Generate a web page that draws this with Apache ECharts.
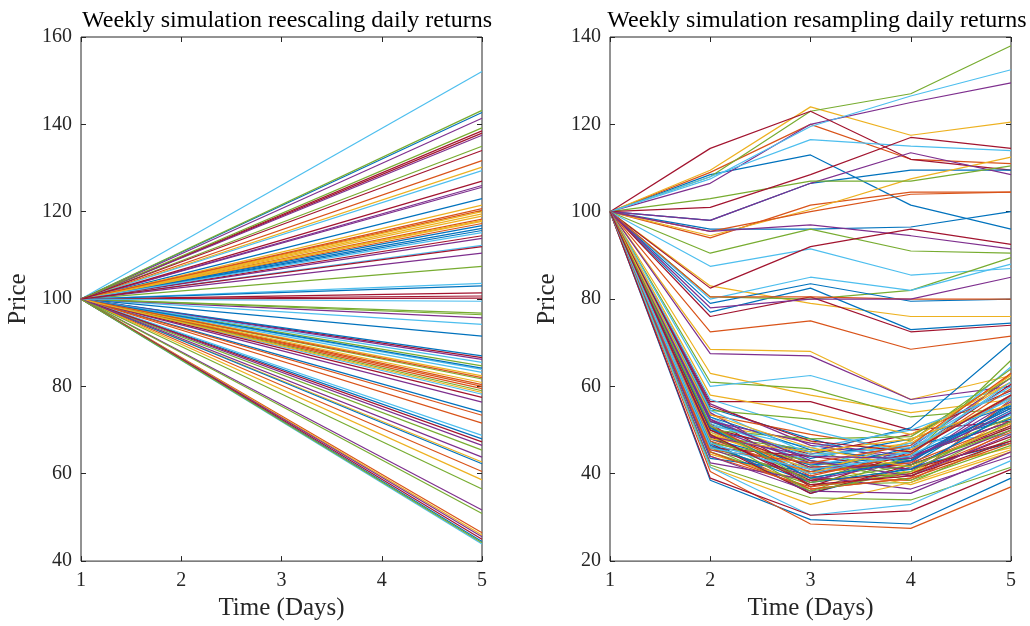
<!DOCTYPE html>
<html><head><meta charset="utf-8">
<script src="https://cdn.jsdelivr.net/npm/echarts@6/dist/echarts.min.js"></script>
<style>html,body{margin:0;padding:0;background:#fff}#c{width:1030px;height:626px}</style>
</head><body><div id="c"></div>
<script>
// MATLAB default color order
const palette = ['#0072BD','#D95319','#EDB120','#7E2F8E','#77AC30','#4DBEEE','#A2142F'];

const days = [1, 2, 3, 4, 5];
const startPrice = 100;

// Left panel: final price at day 5 (lines from 100 at day 1)
const rescaleEnd = [
  142.7,131.7,130.2,141.4,143.2,152.1,138.5,
  123,120.3,120,126,135,129.4,134,
  116.2,118.3,119.5,125.6,107.5,103.6,138,
  115.7,117.3,121.5,113.9,96.8,94.2,100.2,
  91.5,80.0,119,95.7,96.4,112.3,101.4,
  103,80.4,118,110.5,84.7,83.2,86.6,
  87.0,79.5,82.4,86.2,81.7,85.5,100.7,
  74.1,71.6,80.9,76.4,79.0,78.2,77.5,
  68.0,73.4,62.7,66.5,65.4,68.8,67.3,
  62.3,60.5,58.6,51.7,56.5,83.9,114.5,
  44.5,46.5,46.0,45.6,50.9,43.9,45.0,
  116.8,120.7,117.8,137.5,139.2,115.2,127,
  84.2,82.0,78.6,63.8,44.2,99.5,112
];

// Right panel: price path for days 1..5
const resamplePaths = [
  [100,108.5,113,101.5,96],
  [100,109,120,112,111],
  [100,109.5,124,117.5,120.5],
  [100,106.5,120,125,129.5],
  [100,108,123,127,138],
  [100,107.5,119.5,126.5,132.5],
  [100,114.5,123,112,109.5],
  [100,98,106.5,109.5,109.5],
  [100,94,101.5,104.5,104.5],
  [100,94.5,100.5,107.5,112.5],
  [100,98,106.5,113.5,108.5],
  [100,103,107,107,110.5],
  [100,108,116.5,115,114],
  [100,101,108.5,117,114.5],
  [100,96,96,96.5,100],
  [100,95.5,100,104,104.5],
  [100,83,79,76,76],
  [100,95.5,97,94.5,91.5],
  [100,90.5,96,91,90.5],
  [100,87.5,91.5,85.5,87],
  [100,82.5,92,96,92.5],
  [100,77,82.5,73,74.5],
  [100,72.5,75,68.5,71.5],
  [100,68.5,68,57,62.5],
  [100,67.5,67,57,60],
  [100,80.5,80,82,89.5],
  [100,80,85,82,88],
  [100,76,80.5,72.5,74],
  [100,79,83.5,79.5,80],
  [100,80.5,80.5,80,80],
  [100,63,58,54,57],
  [100,78,80,80,85],
  [100,61,59.5,53,55],
  [100,60,62.5,56,59],
  [100,56.5,56.5,50,52],
  [100,50,45,50.5,70],
  [100,48,40,43,63],
  [100,52,44,47,61],
  [100,49,38,46,62],
  [100,46,36,44,66],
  [100,53,42,45,64.5],
  [100,50.5,44.5,49,59],
  [100,55,48,42,56],
  [100,47,36.5,39,57],
  [100,51,47.5,40,53],
  [100,54,41,42.5,58],
  [100,45,37.5,38,48],
  [100,49.5,43,41,54],
  [100,52.5,40,44,52],
  [100,47.5,35.5,41.5,47],
  [100,50,39,38.5,50],
  [100,44.5,38,40.5,46],
  [100,56,46.5,43.5,55],
  [100,48.5,45.5,39.5,51],
  [100,46.5,41.5,47,49],
  [100,51.5,37,45,60.5],
  [100,43.5,40.5,46,52.5],
  [100,53.5,49,45.5,57.5],
  [100,49,42,37.5,45],
  [100,45.5,39.5,36.5,44],
  [100,50,48,48.5,62],
  [100,57,50,44.5,53.5],
  [100,47,35.5,42,50.5],
  [100,52,43.5,48,55.5],
  [100,44,37,40,49.5],
  [100,58,54,49,61],
  [100,42.5,38.5,43,56.5],
  [100,54.5,52.5,47.5,64],
  [100,51,46,50,58.5],
  [100,46,44,41,47.5],
  [100,38.5,29.5,28.5,39],
  [100,40.5,28.5,27.5,37],
  [100,41.5,33,38,45.5],
  [100,44,36,35.5,45],
  [100,42,34.5,34,41.5],
  [100,41.5,30.5,33,43],
  [100,39,30.5,31.5,41],
  [100,48,42,44,55],
  [100,47.5,40.5,42.5,51.5],
  [100,49,41,45.5,58],
  [100,50.5,42.5,41,50],
  [100,46,39,43.5,53],
  [100,51.5,44,46.5,60],
  [100,48.5,38.5,40,48.5],
  [100,53,45.5,43,54.5],
  [100,45,36.5,39,47],
  [100,49.5,40,47.5,62.5],
  [100,52,47,44,52],
  [100,47,43,38.5,46.5],
  [100,54.5,44.5,46,57],
  [100,50,41.5,42,51],
  [100,46.5,38,41,54],
  [100,51,39.5,44.5,59.5],
  [100,48,45,48,56],
  [100,52.5,43,39.5,49],
  [100,49,36,40.5,52],
  [100,47,40,45,61],
  [100,55.5,47.5,45,58],
  [100,50.5,39,43,55.5],
  [100,45.5,42.5,46.5,63],
  [100,53.5,46,41.5,51.5],
  [100,48.5,44,43.5,54],
  [100,51,38,42,50],
  [100,46,41,44,57.5],
  [100,49,37.5,39.5,47.5]
];

const leftTicks = {min: 40, max: 160, interval: 20};
const rightTicks = {min: 20, max: 140, interval: 20};
const titles = ['Weekly simulation reescaling daily returns', 'Weekly simulation resampling daily returns'];
const xName = 'Time (Days)';
const yName = 'Price';

const FONT = 'Liberation Serif';
const AX = '#262626';

function xAxes(gi) {
  return [
    {gridIndex: gi, type: 'value', min: days[0], max: days[days.length-1], interval: 1,
     name: xName, nameLocation: 'middle', nameGap: 31,
     nameTextStyle: {fontFamily: FONT, fontSize: 25, color: AX},
     axisLine: {show: false}, splitLine: {show: false},
     axisTick: {inside: true, length: 5, lineStyle: {color: AX}},
     axisLabel: {fontFamily: FONT, fontSize: 20, color: AX, margin: 10}},
    {gridIndex: gi, type: 'value', position: 'top', min: days[0], max: days[days.length-1], interval: 1,
     axisLine: {show: false}, splitLine: {show: false}, axisLabel: {show: false},
     axisTick: {inside: true, length: 5, lineStyle: {color: AX}}}
  ];
}
function yAxes(gi, t) {
  return [
    {gridIndex: gi, type: 'value', min: t.min, max: t.max, interval: t.interval,
     name: yName, nameLocation: 'middle', nameGap: 50,
     nameTextStyle: {fontFamily: FONT, fontSize: 25, color: AX},
     axisLine: {show: false}, splitLine: {show: false},
     axisTick: {inside: true, length: 5, lineStyle: {color: AX}},
     axisLabel: {fontFamily: FONT, fontSize: 20, color: AX, margin: 9}},
    {gridIndex: gi, type: 'value', position: 'right', min: t.min, max: t.max, interval: t.interval,
     axisLine: {show: false}, splitLine: {show: false}, axisLabel: {show: false},
     axisTick: {inside: true, length: 5, lineStyle: {color: AX}}}
  ];
}

const series = [];
rescaleEnd.forEach((e, i) => {
  series.push({type: 'line', xAxisIndex: 0, yAxisIndex: 0, showSymbol: false, silent: true,
    data: [[days[0], startPrice], [days[days.length-1], e]],
    lineStyle: {width: 1.2, color: palette[i % 7]}, z: 2});
});
resamplePaths.forEach((p, i) => {
  series.push({type: 'line', xAxisIndex: 2, yAxisIndex: 2, showSymbol: false, silent: true,
    data: p.map((v, k) => [days[k], v]),
    lineStyle: {width: 1.2, color: palette[i % 7]}, z: 2});
});

const chart = echarts.init(document.getElementById('c'), null, {renderer: 'canvas'});
chart.setOption({
  animation: false,
  backgroundColor: '#fff',
  title: [
    {text: titles[0], left: 282, top: 4, textAlign: 'center',
     textStyle: {fontFamily: FONT, fontSize: 24, fontWeight: 'normal', color: '#000'}},
    {text: titles[1], left: 812, top: 4, textAlign: 'center',
     textStyle: {fontFamily: FONT, fontSize: 24, fontWeight: 'normal', color: '#000'}}
  ],
  grid: [
    {left: 81, right: 548, top: 37, bottom: 61, show: true, borderColor: AX, borderWidth: 1, backgroundColor: 'transparent'},
    {left: 610, right: 19, top: 37, bottom: 61, show: true, borderColor: AX, borderWidth: 1, backgroundColor: 'transparent'}
  ],
  xAxis: [...xAxes(0), ...xAxes(1)],
  yAxis: [...yAxes(0, leftTicks), ...yAxes(1, rightTicks)],
  series: series
});
</script>
</body></html>
